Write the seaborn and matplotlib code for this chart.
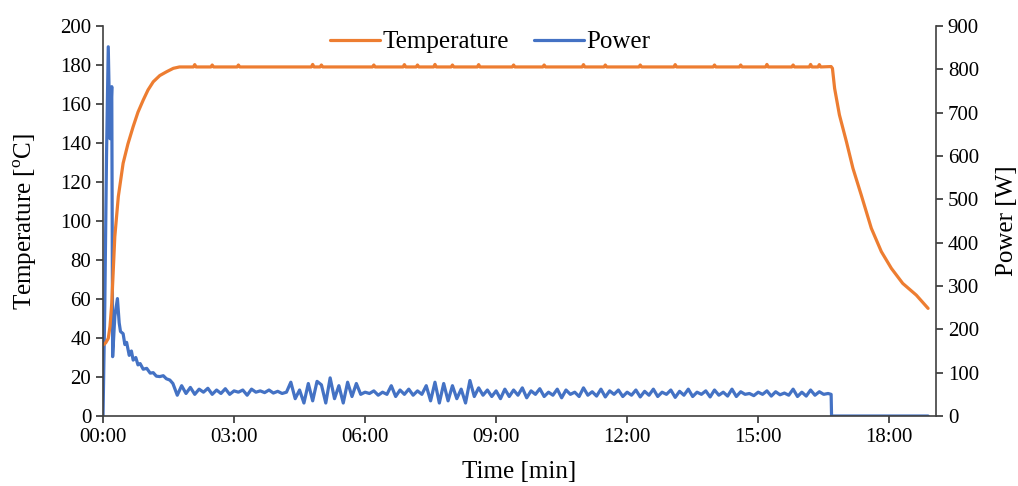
import numpy as np
import pandas as pd
import matplotlib
matplotlib.use("Agg")
import matplotlib.pyplot as plt
import seaborn as sns

# ---- data (time in minutes) ----
# heating phase
heat_time = [0.0, 0.06, 0.12, 0.16, 0.20, 0.27, 0.35, 0.46, 0.57, 0.69,
             0.80, 0.92, 1.03, 1.15, 1.30, 1.46, 1.61, 1.75]
heat_vals = [36.4, 37.5, 39.8, 46.0, 57.8, 92.0, 112.5, 129.6, 139.5, 148.4,
             155.8, 162.0, 167.2, 171.4, 174.6, 176.6, 178.3, 179.0]
# holding phase (small sensor spikes)
hold_time = [2.07, 2.10, 2.13, 2.47, 2.50, 2.53, 3.07, 3.10, 3.13, 4.77,
             4.80, 4.83, 4.97, 5.00, 5.03, 6.17, 6.20, 6.23, 6.87, 6.90,
             6.93, 7.17, 7.20, 7.23, 7.57, 7.60, 7.63, 7.97, 8.00, 8.03,
             8.57, 8.60, 8.63, 9.37, 9.40, 9.43, 10.07, 10.10, 10.13, 10.97,
             11.00, 11.03, 11.47, 11.50, 11.53, 12.27, 12.30, 12.33, 13.07,
             13.10, 13.13, 13.97, 14.00, 14.03, 14.57, 14.60, 14.63, 15.17,
             15.20, 15.23, 15.77, 15.80, 15.83, 16.17, 16.20, 16.23, 16.37,
             16.40, 16.43, 16.67]
hold_vals = [179.0, 180.2, 179.0, 179.0, 180.0, 179.0, 179.0, 180.0, 179.0,
             179.0, 180.3, 179.0, 179.0, 180.0, 179.0, 179.0, 180.0, 179.0,
             179.0, 180.2, 179.0, 179.0, 180.0, 179.0, 179.0, 180.3, 179.0,
             179.0, 180.0, 179.0, 179.0, 180.2, 179.0, 179.0, 180.0, 179.0,
             179.0, 180.0, 179.0, 179.0, 180.2, 179.0, 179.0, 180.0, 179.0,
             179.0, 180.0, 179.0, 179.0, 180.2, 179.0, 179.0, 180.0, 179.0,
             179.0, 180.0, 179.0, 179.0, 180.3, 179.0, 179.0, 180.0, 179.0,
             179.0, 180.3, 179.0, 179.0, 180.2, 179.0, 179.2]
# cooling phase
cool_time = [16.70, 16.75, 16.86, 17.02, 17.17, 17.36, 17.59, 17.82, 18.05,
             18.31, 18.62, 18.89]
cool_vals = [178.3, 168.0, 154.4, 140.7, 127.0, 113.3, 96.3, 84.3, 75.7,
             68.0, 62.0, 55.2]

power_time = [0.0, 0.04, 0.08, 0.12, 0.16, 0.20, 0.22, 0.27, 0.33, 0.37,
              0.40, 0.46, 0.50, 0.54, 0.60, 0.65, 0.69, 0.75, 0.80, 0.85,
              0.92, 1.00, 1.08, 1.15, 1.22, 1.30, 1.38, 1.45, 1.53] + \
             [round(1.6 + 0.1 * i, 2) for i in range(151)] + [16.67, 16.68, 18.89]
power_vals = [0, 250, 600, 852, 640, 760, 137, 230, 271, 215, 195, 190,
              165, 170, 140, 150, 129, 135, 118, 121, 108, 110, 99, 100, 92,
              91, 93, 86, 83,
              # 1.6 - 4.2
              75, 48, 70, 52, 66, 50, 62, 55, 64, 50, 60, 52, 63, 50, 58, 55,
              60, 48, 62, 55, 58, 54, 60, 53, 57, 52, 55,
              # 4.3 - 6.0
              78, 40, 60, 30, 75, 35, 80, 72, 30, 88, 40, 70, 30, 78, 45, 75,
              50, 55,
              # 6.1 - 9.0
              52, 58, 48, 55, 50, 70, 45, 60, 50, 62, 48, 58, 50, 70, 35, 78,
              30, 75, 35, 70, 40, 62, 30, 82, 45, 65, 48, 60, 45, 58,
              # 9.1 - 16.6
              40, 62, 45, 60, 48, 65, 42, 58, 50, 63, 45, 55, 48, 62, 42, 60,
              50, 55, 45, 65, 48, 56, 46, 62, 44, 58, 50, 60, 45, 55, 48, 60,
              44, 57, 48, 62, 45, 55, 50, 60, 43, 57, 48, 62, 45, 55, 50, 58,
              44, 60, 48, 55, 46, 62, 45, 56, 50, 52, 47, 55, 50, 58, 46, 56,
              49, 53, 48, 62, 45, 55, 46, 60, 48, 56, 50, 52,
              50, 0, 0]

x_ticks = [0, 3, 6, 9, 12, 15, 18]
x_tick_labels = ["00:00", "03:00", "06:00", "09:00", "12:00", "15:00", "18:00"]
temp_ticks = list(range(0, 201, 20))
power_ticks = list(range(0, 901, 100))

temp_df = pd.DataFrame({"time": heat_time + hold_time + cool_time,
                        "value": heat_vals + hold_vals + cool_vals})
power_df = pd.DataFrame({"time": power_time, "value": power_vals})

sns.set_style("ticks")
plt.rcParams["font.family"] = ["Liberation Serif", "DejaVu Serif"]
plt.rcParams["mathtext.fontset"] = "custom"
plt.rcParams["mathtext.rm"] = "Liberation Serif"
plt.rcParams["text.color"] = "black"
plt.rcParams["axes.labelcolor"] = "black"
plt.rcParams["xtick.color"] = "black"
plt.rcParams["ytick.color"] = "black"

ORANGE = "#ED7D31"
BLUE = "#4472C4"

fig = plt.figure(figsize=(10.18, 4.86), dpi=100)
ax = fig.add_axes([0.1012, 0.144, 0.8182, 0.8025])
ax2 = ax.twinx()

sns.lineplot(data=temp_df, x="time", y="value", ax=ax, color=ORANGE,
             lw=2.3, estimator=None, sort=False, label="Temperature", legend=False)
sns.lineplot(data=power_df, x="time", y="value", ax=ax2, color=BLUE,
             lw=2.3, estimator=None, sort=False, label="Power", legend=False)

ax.set_xlim(0, 19.07)
ax.set_ylim(0, 200)
ax2.set_ylim(0, 900)
ax.set_xticks(x_ticks)
ax.set_xticklabels(x_tick_labels)
ax.set_yticks(temp_ticks)
ax2.set_yticks(power_ticks)

ax.set_xlabel("Time [min]", fontsize=18, labelpad=10)
ax.set_ylabel("Temperature [$^{\\mathrm{o}}$C]", fontsize=18, labelpad=15)
ax2.set_ylabel("Power [W]", fontsize=18, labelpad=12)

for a in (ax, ax2):
    a.tick_params(labelsize=15, length=5, width=1.2, color="#333333",
                  labelcolor="black", direction="out")
    for s in a.spines.values():
        s.set_color("#404040")
        s.set_linewidth(1.2)
    a.spines["top"].set_visible(False)
ax.spines["right"].set_visible(False)
ax2.spines["left"].set_visible(False)
ax2.spines["bottom"].set_visible(False)
ax.set_zorder(ax2.get_zorder() + 1)
ax.patch.set_visible(False)

handles = ax.get_lines()[:1] + ax2.get_lines()[:1]
ax.legend(handles, ["Temperature", "Power"], loc="upper center",
          bbox_to_anchor=(0.465, 1.045), ncol=2, frameon=False, fontsize=18,
          handlelength=2.0, handletextpad=0.1, columnspacing=1.0)

fig.savefig("out.png", dpi=100)
